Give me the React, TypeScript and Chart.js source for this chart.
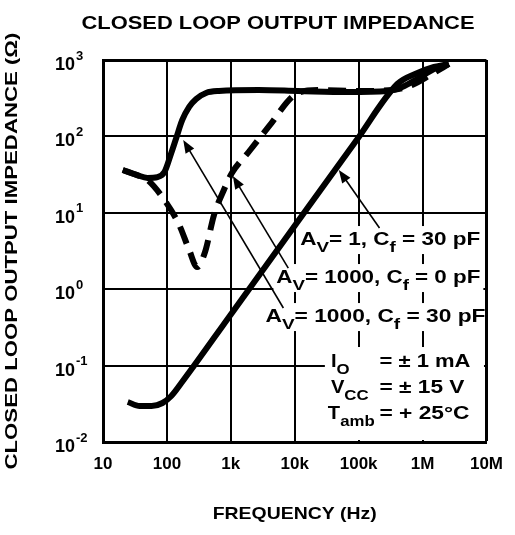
import React, { useEffect, useRef } from "react";
import { Chart, registerables } from "chart.js";

Chart.register(...registerables);

// ---------- axes ----------
const xTicks = [10, 100, 1e3, 1e4, 1e5, 1e6, 1e7];
const xTickLabels = ["10", "100", "1k", "10k", "100k", "1M", "10M"];
const yTicks = [0.01, 0.1, 1, 10, 100, 1000];
const yTickBase = "10";
const yTickExponents = ["-2", "-1", "0", "1", "2", "3"];

const chartTitle = "CLOSED LOOP OUTPUT IMPEDANCE";
const xTitle = "FREQUENCY (Hz)";
const yTitle = "CLOSED LOOP OUTPUT IMPEDANCE (Ω)";

// ---------- series (frequency in Hz, impedance in ohms) ----------
// A_V = 1000, C_f = 30 pF (solid)
const freqAv1000Cf30 = [20.4, 33.7, 49.9, 71.3, 91.5, 117, 140, 174, 223, 287, 409, 652, 2720, 11300, 67500, 282000, 481000, 822000, 1510000, 2580000];
const zAv1000Cf30 = [36.3, 31.3, 28.6, 29.4, 34.2, 60.7, 95.3, 164, 243, 309, 370, 393, 404, 393, 381, 393, 444, 563, 762, 887];

// A_V = 1000, C_f = 0 pF (dashed)
const freqAv1000Cf0 = [20.4, 33.7, 49.9, 91.5, 156, 223, 297, 395, 545, 778, 1040, 1900, 3880, 10500, 23100, 96400, 337000, 687000, 1400000, 2580000];
const zAv1000Cf0 = [36.3, 31.3, 26.9, 14.7, 6.92, 3.26, 1.95, 3.07, 9.35, 19.9, 33.2, 62.5, 133, 359, 404, 393, 404, 471, 656, 887];

// A_V = 1, C_f = 30 pF (solid)
const freqAv1Cf30 = [24.4, 37.5, 57.5, 85.2, 117, 168, 1040, 10200, 93100, 403000, 766000, 1510000, 2580000];
const zAv1Cf30 = [0.0334, 0.0296, 0.0296, 0.0324, 0.04, 0.0591, 0.489, 6.92, 89.7, 485, 656, 810, 887];

// ---------- annotations ----------
type Piece = { t: string; sub?: boolean };
const labelPieces: Piece[][] = [
  [{ t: "A" }, { t: "V", sub: true }, { t: "= 1, C" }, { t: "f", sub: true }, { t: " = 30 pF" }],
  [{ t: "A" }, { t: "V", sub: true }, { t: "= 1000, C" }, { t: "f", sub: true }, { t: " = 0 pF" }],
  [{ t: "A" }, { t: "V", sub: true }, { t: "= 1000, C" }, { t: "f", sub: true }, { t: " = 30 pF" }],
];
const labelFreq = [12170, 5160, 3490];
const labelZ = [4.4, 1.4, 0.432];
const arrowFromFreq = [212000, 7930, 6640];
const arrowFromZ = [6.33, 1.89, 0.567];
const arrowToFreq = [49000, 1075, 180];
const arrowToZ = [36.3, 30.3, 89.7];

const infoLeft: Piece[][] = [
  [{ t: "I" }, { t: "O", sub: true }],
  [{ t: "V" }, { t: "CC", sub: true }],
  [{ t: "T" }, { t: "amb", sub: true }],
];
const infoRight = ["= ± 1 mA", "= ± 15 V", "= + 25°C"];
const infoFreq = [36800, 36800, 33000];
const infoRightFreq = 212000;
const infoZ = [0.1114, 0.0509, 0.0232];

// ---------- styles / layout ----------
const FONT = '"Liberation Sans", Arial, sans-serif';
const LABEL_W = [180, 204, 220];
const INFO_RIGHT_W = [91, 85, 90];

function drawRich(
  ctx: CanvasRenderingContext2D,
  pieces: Piece[],
  x: number,
  y: number,
  size: number,
  targetW: number | null,
  bold = true
) {
  const main = `${bold ? "bold " : ""}${size}px ${FONT}`;
  const sub = `${bold ? "bold " : ""}${Math.round(size * 0.85)}px ${FONT}`;
  let total = 0;
  const widths = pieces.map((p) => {
    ctx.font = p.sub ? sub : main;
    const w = ctx.measureText(p.t).width;
    total += w;
    return w;
  });
  const sx = targetW ? targetW / total : 1.12;
  ctx.save();
  ctx.translate(x, y);
  ctx.scale(sx, 1);
  ctx.textAlign = "left";
  ctx.textBaseline = "middle";
  ctx.fillStyle = "#000";
  let cx = 0;
  pieces.forEach((p, i) => {
    ctx.font = p.sub ? sub : main;
    ctx.fillText(p.t, cx, p.sub ? size * 0.42 : 0);
    cx += widths[i];
  });
  ctx.restore();
}

function drawFittedCentered(
  ctx: CanvasRenderingContext2D,
  text: string,
  cx: number,
  cy: number,
  size: number,
  targetW: number,
  rotate = 0
) {
  ctx.save();
  ctx.font = `bold ${size}px ${FONT}`;
  const w = ctx.measureText(text).width;
  ctx.translate(cx, cy);
  ctx.rotate(rotate);
  ctx.scale(targetW / w, 1);
  ctx.textAlign = "center";
  ctx.textBaseline = "middle";
  ctx.fillStyle = "#000";
  ctx.fillText(text, 0, 0);
  ctx.restore();
}

const overlayPlugin = {
  id: "overlay",
  beforeDatasetsDraw(chart: any) {
    const { ctx, chartArea } = chart;
    const x = chart.scales.x;
    const y = chart.scales.y;
    const maxRight = chartArea.right - 2.5;
    ctx.save();
    ctx.fillStyle = "#fff";
    labelPieces.forEach((_, i) => {
      const px = x.getPixelForValue(labelFreq[i]);
      const py = y.getPixelForValue(labelZ[i]);
      const r = Math.min(px + LABEL_W[i] + 3, maxRight);
      ctx.fillRect(px - 3, py - 14, r - (px - 3), 28);
    });
    const ix = x.getPixelForValue(infoFreq[2]) - 3;
    const iy = y.getPixelForValue(infoZ[0]) - 15;
    ctx.fillRect(ix, iy, maxRight - ix, chartArea.bottom - 2 - iy);
    ctx.restore();
  },
  afterDatasetsDraw(chart: any) {
    const { ctx } = chart;
    const x = chart.scales.x;
    const y = chart.scales.y;

    // arrows
    ctx.save();
    ctx.strokeStyle = "#000";
    ctx.fillStyle = "#000";
    ctx.lineWidth = 1.6;
    arrowFromFreq.forEach((_, i) => {
      const x1 = x.getPixelForValue(arrowFromFreq[i]);
      const y1 = y.getPixelForValue(arrowFromZ[i]);
      const x2 = x.getPixelForValue(arrowToFreq[i]);
      const y2 = y.getPixelForValue(arrowToZ[i]);
      const a = Math.atan2(y2 - y1, x2 - x1);
      const L = 13;
      const H = 5;
      ctx.beginPath();
      ctx.moveTo(x1, y1);
      ctx.lineTo(x2 - Math.cos(a) * L * 0.8, y2 - Math.sin(a) * L * 0.8);
      ctx.stroke();
      ctx.beginPath();
      ctx.moveTo(x2, y2);
      ctx.lineTo(x2 - Math.cos(a) * L - Math.sin(a) * H, y2 - Math.sin(a) * L + Math.cos(a) * H);
      ctx.lineTo(x2 - Math.cos(a) * L + Math.sin(a) * H, y2 - Math.sin(a) * L - Math.cos(a) * H);
      ctx.closePath();
      ctx.fill();
    });
    ctx.restore();

    // curve labels
    labelPieces.forEach((pieces, i) => {
      drawRich(ctx, pieces, x.getPixelForValue(labelFreq[i]), y.getPixelForValue(labelZ[i]), 18, LABEL_W[i]);
    });
    // info block
    infoLeft.forEach((pieces, i) => {
      const py = y.getPixelForValue(infoZ[i]);
      drawRich(ctx, pieces, x.getPixelForValue(infoFreq[i]), py, 18, null);
      drawRich(ctx, [{ t: infoRight[i] }], x.getPixelForValue(infoRightFreq), py, 18, INFO_RIGHT_W[i]);
    });

    // y tick labels 10^n
    ctx.save();
    ctx.fillStyle = "#000";
    ctx.textAlign = "left";
    ctx.textBaseline = "middle";
    yTicks.forEach((v, i) => {
      const py = y.getPixelForValue(v);
      ctx.font = `bold 18px ${FONT}`;
      const w = ctx.measureText(yTickBase).width;
      ctx.fillText(yTickBase, 55, py + 5);
      ctx.font = `bold 13px ${FONT}`;
      ctx.fillText(yTickExponents[i], 55 + w + 1, py - 4);
    });
    ctx.restore();

    // titles
    drawFittedCentered(ctx, chartTitle, 278, 24, 19, 393);
    drawFittedCentered(ctx, xTitle, (chart.chartArea.left + chart.chartArea.right) / 2, 514, 17, 164);
    drawFittedCentered(ctx, yTitle, 13, (chart.chartArea.top + chart.chartArea.bottom) / 2, 16, 437, -Math.PI / 2);
  },
};

const toPoints = (xs: number[], ys: number[]) => xs.map((v, i) => ({ x: v, y: ys[i] }));

export default function App() {
  const ref = useRef<HTMLCanvasElement | null>(null);
  useEffect(() => {
    if (!ref.current) return;
    const edgeWidth = (max: number) => (c: any) => (c.tick && c.tick.value === max ? 3 : 2);
    const chart = new Chart(ref.current, {
      type: "line",
      data: {
        datasets: [
          {
            label: "AV=1000, Cf=30pF",
            data: toPoints(freqAv1000Cf30, zAv1000Cf30),
            borderColor: "#000",
            borderWidth: 6,
            pointRadius: 0,
            fill: false,
            cubicInterpolationMode: "monotone",
          },
          {
            label: "AV=1000, Cf=0pF",
            data: toPoints(freqAv1000Cf0, zAv1000Cf0),
            borderColor: "#000",
            borderWidth: 6,
            borderDash: [18, 10],
            pointRadius: 0,
            fill: false,
            cubicInterpolationMode: "monotone",
          },
          {
            label: "AV=1, Cf=30pF",
            data: toPoints(freqAv1Cf30, zAv1Cf30),
            borderColor: "#000",
            borderWidth: 6,
            pointRadius: 0,
            fill: false,
            cubicInterpolationMode: "monotone",
          },
        ],
      },
      options: {
        responsive: false,
        maintainAspectRatio: false,
        animation: false,
        devicePixelRatio: 1,
        layout: { padding: { top: 60, right: 25, left: 0, bottom: 0 } },
        plugins: {
          legend: { display: false },
          tooltip: { enabled: false },
          title: { display: false },
        },
        elements: { point: { radius: 0 } },
        scales: {
          x: {
            type: "logarithmic",
            min: 10,
            max: 1e7,
            afterBuildTicks: (s: any) => {
              s.ticks = xTicks.map((v) => ({ value: v }));
            },
            afterFit: (s: any) => {
              s.height = 93;
            },
            grid: { color: "#000", lineWidth: edgeWidth(1e7), drawTicks: false },
            border: { color: "#000", width: 3 },
            ticks: {
              autoSkip: false,
              maxRotation: 0,
              minRotation: 0,
              padding: 12,
              color: "#000",
              font: { family: FONT, size: 17, weight: "bold" },
              callback: (v: any) => xTickLabels[xTicks.indexOf(Number(v))] ?? "",
            },
          },
          y: {
            type: "logarithmic",
            min: 0.01,
            max: 1000,
            afterBuildTicks: (s: any) => {
              s.ticks = yTicks.map((v) => ({ value: v }));
            },
            afterFit: (s: any) => {
              s.width = 103;
            },
            grid: { color: "#000", lineWidth: edgeWidth(1000), drawTicks: false },
            border: { color: "#000", width: 3 },
            ticks: { display: false },
          },
        },
      } as any,
      plugins: [overlayPlugin],
    });
    return () => chart.destroy();
  }, []);
  return (
    <div style={{ position: "fixed", left: 0, top: 0, width: 515, height: 535, background: "#fff" }}>
      <canvas ref={ref} width={515} height={535} style={{ display: "block" }} />
    </div>
  );
}
